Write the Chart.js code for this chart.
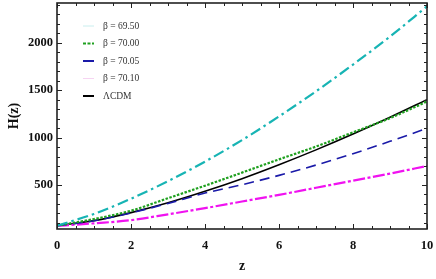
<!DOCTYPE html>
<html>
<head>
<meta charset="utf-8">
<script src="https://cdn.jsdelivr.net/npm/chart.js@4.4.1/dist/chart.umd.min.js"></script>
<style>
  html, body { margin: 0; padding: 0; background: #fff; }
  #wrap { width: 436px; height: 279px; }
</style>
</head>
<body>
<div id="wrap"><canvas id="hubbleChart"></canvas></div>
<script>
// valores, H(z) frente a z
var zValues = [0, 1, 2, 3, 4, 5, 6, 7, 8, 9, 10];
var hBeta6950 = [70, 194, 355, 540, 746, 973, 1223, 1488, 1770, 2065, 2385];
var hBeta7000 = [70, 140, 228, 360, 492, 630, 770, 905, 1055, 1205, 1380];
var hBeta7005 = [70, 122, 205, 305, 414, 502, 601, 710, 830, 960, 1097];
var hBeta7010 = [67, 95, 128, 190, 255, 325, 395, 470, 545, 620, 700];
var hLCDM = [70, 123, 208, 312, 433, 566, 713, 870, 1037, 1214, 1400];

var xTickLabels = [0, 2, 4, 6, 8, 10];
var yTickLabels = [500, 1000, 1500, 2000];

var seriesLabels = ['\u03B2 = 69.50', '\u03B2 = 70.00', '\u03B2 = 70.05', '\u03B2 = 70.10', '\u039BCDM'];

function toPoints(ys) {
    return zValues.map(function (z, i) { return { x: z, y: ys[i] }; });
}

var tickFont = { family: 'Liberation Serif', size: 12.5, weight: 'bold' };
var titleFont = { family: 'Liberation Serif', size: 14, weight: 'bold' };

// ticks hacia dentro en los cuatro lados y marco
var framePlugin = {
    id: 'frame',
    afterDraw: function (chart) {
        var ctx = chart.ctx;
        var a = chart.chartArea;
        var xs = chart.scales.x, ys = chart.scales.y;
        ctx.save();
        ctx.strokeStyle = '#222';
        ctx.lineWidth = 1;
        for (var v = 0; v <= 10.001; v += 0.5) {
            var px = Math.round(xs.getPixelForValue(v)) + 0.5;
            var len = (Math.abs(v % 2) < 0.01) ? 5 : 3;
            ctx.beginPath();
            ctx.moveTo(px, a.bottom); ctx.lineTo(px, a.bottom - len);
            ctx.moveTo(px, a.top); ctx.lineTo(px, a.top + len);
            ctx.stroke();
        }
        for (var h = 100; h <= 2400; h += 100) {
            var py = Math.round(ys.getPixelForValue(h)) + 0.5;
            if (py < a.top || py > a.bottom) continue;
            var l = (h % 500 === 0) ? 5 : 3;
            ctx.beginPath();
            ctx.moveTo(a.left, py); ctx.lineTo(a.left + l, py);
            ctx.moveTo(a.right, py); ctx.lineTo(a.right - l, py);
            ctx.stroke();
        }
        ctx.lineWidth = 1.6;
        ctx.strokeRect(a.left, a.top, a.right - a.left, a.bottom - a.top);

        // leyenda
        var lx = a.left + 26, ly = a.top + 23;
        ctx.font = '9.5px "Liberation Serif"';
        ctx.textBaseline = 'middle';
        chart.data.datasets.forEach(function (ds, i) {
            var y = ly + i * 17.5;
            ctx.strokeStyle = ds.legendColor;
            ctx.lineWidth = ds.legendWidth;
            ctx.setLineDash(ds.legendDash);
            ctx.beginPath();
            ctx.moveTo(lx, y); ctx.lineTo(lx + 11, y);
            ctx.stroke();
            ctx.setLineDash([]);
            ctx.fillStyle = '#333';
            ctx.fillText(ds.label, lx + 20, y);
        });
        ctx.restore();
    }
};

var ctx = document.getElementById('hubbleChart').getContext('2d');
var hubbleChart = new Chart(ctx, {
    type: 'line',
    data: {
        datasets: [
            { label: seriesLabels[0], data: toPoints(hBeta6950), borderColor: '#17b4b4', borderWidth: 2.2,
              borderDash: [11, 4, 2.5, 4], legendColor: '#c9eeee', legendWidth: 1, legendDash: [] },
            { label: seriesLabels[1], data: toPoints(hBeta7000), borderColor: '#1fa01f', borderWidth: 2.2,
              borderDash: [2.5, 1.5], legendColor: '#1fa01f', legendWidth: 2, legendDash: [3, 1.5] },
            { label: seriesLabels[2], data: toPoints(hBeta7005), borderColor: '#1a1aa8', borderWidth: 1.6,
              borderDash: [10, 6], legendColor: '#1a1aa8', legendWidth: 2, legendDash: [] },
            { label: seriesLabels[3], data: toPoints(hBeta7010), borderColor: '#f012f0', borderWidth: 2.2,
              borderDash: [12, 2.5, 3, 2.5], legendColor: '#f6d4f2', legendWidth: 1, legendDash: [] },
            { label: seriesLabels[4], data: toPoints(hLCDM), borderColor: '#000', borderWidth: 1.6,
              borderDash: [], legendColor: '#000', legendWidth: 2, legendDash: [] }
        ]
    },
    options: {
        animation: false,
        responsive: true,
        maintainAspectRatio: false,
        devicePixelRatio: 1,
        layout: { padding: { left: 0, right: 9, top: 3, bottom: 0 } },
        elements: {
            point: { radius: 0 },
            line: { cubicInterpolationMode: 'monotone', fill: false }
        },
        plugins: {
            legend: { display: false },
            tooltip: { enabled: false }
        },
        scales: {
            x: {
                type: 'linear',
                min: 0,
                max: 10,
                grid: { display: false, drawTicks: false },
                border: { display: false },
                afterBuildTicks: function (scale) {
                    scale.ticks = xTickLabels.map(function (v) { return { value: v }; });
                },
                afterFit: function (scale) {
                    scale.height = 50;
                    scale.paddingLeft = 0;
                    scale.paddingRight = 0;
                },
                ticks: { font: tickFont, color: '#111', padding: 9, maxRotation: 0,
                         callback: function (v) { return String(v); } },
                title: { display: true, text: 'z', font: titleFont, color: '#111', padding: { top: 0, bottom: 4 } }
            },
            y: {
                type: 'linear',
                min: 35,
                max: 2420,
                grid: { display: false, drawTicks: false },
                border: { display: false },
                afterBuildTicks: function (scale) {
                    scale.ticks = yTickLabels.map(function (v) { return { value: v }; });
                },
                afterFit: function (scale) {
                    scale.width = 57;
                    scale.paddingTop = 0;
                    scale.paddingBottom = 0;
                },
                ticks: { font: tickFont, color: '#111', padding: 4,
                         callback: function (v) { return String(v); } },
                title: { display: true, text: 'H(z)', font: titleFont, color: '#111', padding: { top: 6, bottom: 0 } }
            }
        }
    },
    plugins: [framePlugin]
});
</script>
</body>
</html>
